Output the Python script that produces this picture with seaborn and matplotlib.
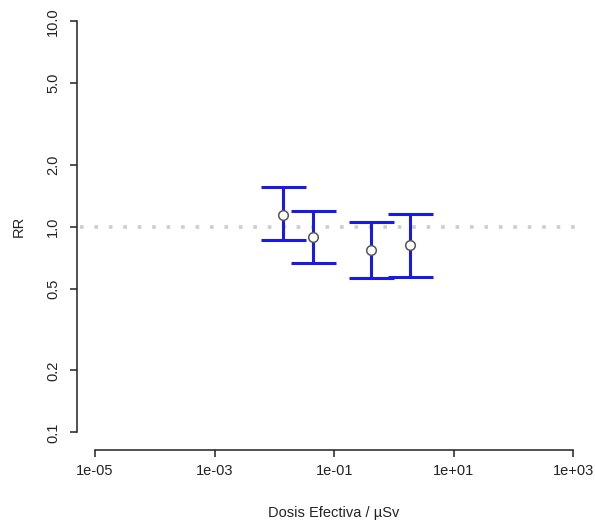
import numpy as np
import pandas as pd
import matplotlib
matplotlib.use("Agg")
import matplotlib.pyplot as plt
import seaborn as sns

# Effective dose (µSv) and relative risk with confidence limits
dose = [0.0139, 0.0442, 0.412, 1.85]
rr = [1.14, 0.895, 0.771, 0.815]
rr_low = [0.863, 0.664, 0.561, 0.568]
rr_high = [1.556, 1.194, 1.059, 1.154]

x_ticks = [1e-05, 1e-03, 1e-01, 1e+01, 1e+03]
x_tick_labels = ["1e-05", "1e-03", "1e-01", "1e+01", "1e+03"]
y_ticks = [0.1, 0.2, 0.5, 1.0, 2.0, 5.0, 10.0]
y_tick_labels = ["0.1", "0.2", "0.5", "1.0", "2.0", "5.0", "10.0"]

df = pd.DataFrame({"dose": dose, "rr": rr, "low": rr_low, "high": rr_high})

sns.set_theme(style="ticks")
plt.rcParams["font.family"] = ["Liberation Sans", "DejaVu Sans"]

W, H = 595, 523
fig = plt.figure(figsize=(W / 100, H / 100), dpi=100)
left, right, top, bottom = 77, 591, 3, 450
ax = fig.add_axes([left / W, (H - bottom) / H, (right - left) / W, (bottom - top) / H])

ax.set_xscale("log")
ax.set_yscale("log")
ax.set_xlim(10 ** -5.301, 10 ** 3.296)
ax.set_ylim(10 ** -1.086, 10 ** 1.089)

# reference line at RR = 1
ax.axhline(1.0, xmin=0.006, xmax=0.973, color="#cdcdcd", lw=2.6,
           ls=(0, (1, 3)), zorder=1)

# confidence intervals
yerr = np.array([df["rr"] - df["low"], df["high"] - df["rr"]])
ax.errorbar(df["dose"], df["rr"], yerr=yerr, fmt="none", ecolor="#1a1ae6",
            elinewidth=2.2, capsize=16.2, capthick=2.2, zorder=2)

# point estimates
sns.scatterplot(data=df, x="dose", y="rr", ax=ax, marker="o", s=48,
                facecolor="white", edgecolor="#555555", linewidth=1.1,
                zorder=3, legend=False)

for side in ["top", "right"]:
    ax.spines[side].set_visible(False)
ax.spines["left"].set_bounds(0.1, 10.0)
ax.spines["bottom"].set_bounds(1e-05, 1e+03)
for side in ["left", "bottom"]:
    ax.spines[side].set_linewidth(1.1)
    ax.spines[side].set_color("#222222")

ax.set_xticks(x_ticks)
ax.set_xticklabels(x_tick_labels)
ax.set_yticks(y_ticks)
ax.set_yticklabels(y_tick_labels, rotation=90, va="center")
ax.minorticks_off()
ax.tick_params(axis="both", length=5, width=1.1, color="#222222",
               labelsize=10.5, labelcolor="#222222")
ax.tick_params(axis="x", pad=5)
ax.tick_params(axis="y", pad=7)

ax.set_xlabel("Dosis Efectiva / µSv", fontsize=10.5, color="#222222", labelpad=20)
ax.set_ylabel("RR", fontsize=10.5, color="#222222", labelpad=15)

fig.savefig("out.png", dpi=100)
